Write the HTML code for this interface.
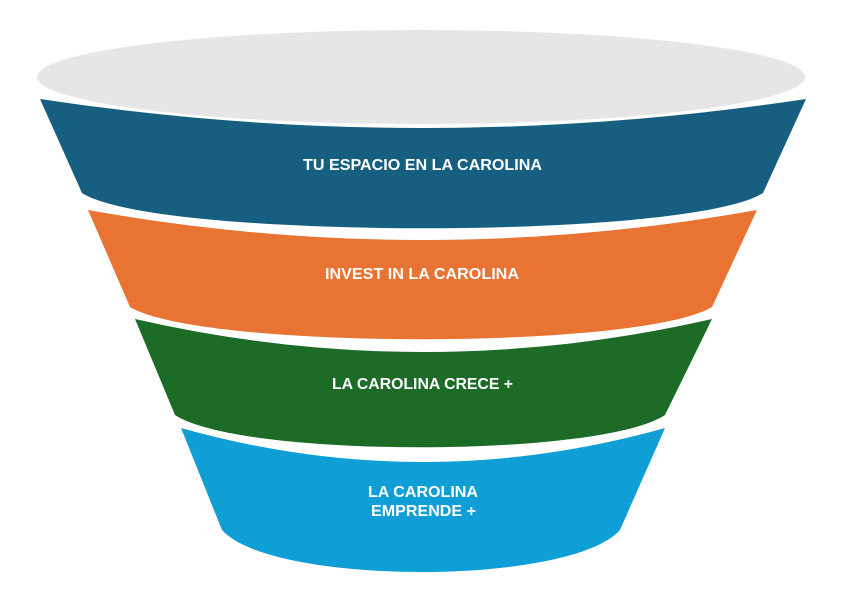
<!DOCTYPE html>
<html><head><meta charset="utf-8"><style>
html,body{margin:0;padding:0;background:#fff;width:850px;height:610px;overflow:hidden}
svg{display:block}
text{font-family:"Liberation Sans",sans-serif;font-weight:bold;font-size:16px;fill:#fff}
</style></head><body>
<svg width="850" height="610" viewBox="0 0 850 610" xmlns="http://www.w3.org/2000/svg">
<ellipse cx="421" cy="77" rx="384" ry="47" fill="#e6e6e6"/>
<path d="M40 99 Q423 157 806 99 L763 193 C690 240 155 240 82 193 Z" fill="#175f80"/>
<path d="M88 210 Q423 270 757 210 L712 307 C640 350 202 350 130 307 Z" fill="#e87332"/>
<path d="M135 319 Q423 385 712 319 L665 415 C600 458 240 458 175 415 Z" fill="#1c6b26"/>
<path d="M181 428 Q423 496 665 428 L620 530 C570 586 272 586 222 530 Z" fill="#0f9fd6"/>
<text x="303" y="170" textLength="239" lengthAdjust="spacingAndGlyphs">TU ESPACIO EN LA CAROLINA</text>
<text x="325" y="279" textLength="194" lengthAdjust="spacingAndGlyphs">INVEST IN LA CAROLINA</text>
<text x="332" y="389" textLength="181" lengthAdjust="spacingAndGlyphs">LA CAROLINA CRECE +</text>
<text x="368" y="497" textLength="110" lengthAdjust="spacingAndGlyphs">LA CAROLINA</text>
<text x="371" y="516" textLength="105" lengthAdjust="spacingAndGlyphs">EMPRENDE +</text>
</svg>
</body></html>
